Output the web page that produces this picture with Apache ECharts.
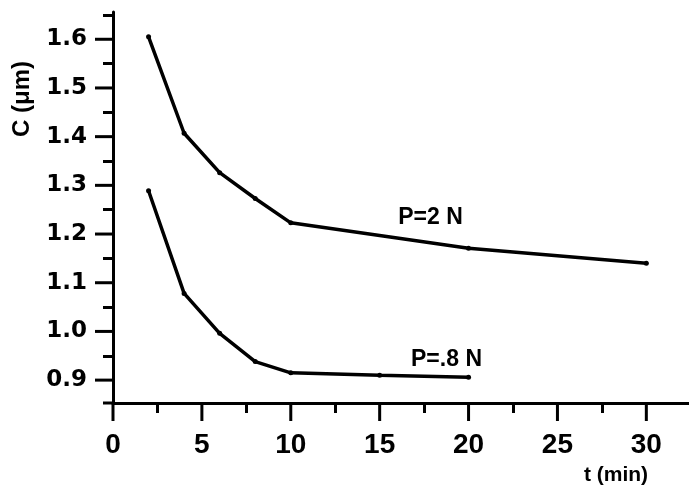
<!DOCTYPE html>
<html lang="en">
  <head>
    <meta charset="UTF-8" />
    <title>C vs t</title>
    <style>
      body, html {
        margin: 0;
        width: 100%;
        height: 100%;
        background: #fff;
      }
    </style>
  </head>
  <body>
    <div id="main" style="width:689px;height:492px;"></div>

    <script src="https://cdn.jsdelivr.net/npm/echarts@6.0.0/dist/echarts.min.js"></script>
    <script>
      const timeP2 = [2, 4, 6, 8, 10, 20, 30];
      const cP2 = [1.605, 1.407, 1.326, 1.273, 1.223, 1.171, 1.14];
      const timeP08 = [2, 4, 6, 8, 10, 15, 20];
      const cP08 = [1.289, 1.078, 0.996, 0.938, 0.915, 0.91, 0.906];

      const xMajor = [0, 5, 10, 15, 20, 25, 30];
      const yMajor = [0.9, 1.0, 1.1, 1.2, 1.3, 1.4, 1.5, 1.6];

      const X_STEP = 5;
      const Y_STEP = 0.1;

      const seriesNames = ['P=2 N', 'P=.8 N'];
      const nameSpots = [[17.86, 1.233], [18.76, 0.941]];

      const X_MIN = 0, X_MAX = 32.4;
      const Y_MIN = 0.853, Y_MAX = 1.656;

      const ink = '#000';
      const MAJOR_LEN = 18;
      const MINOR_LEN = 10;

      function pairs(xs, ys) {
        return xs.map((x, i) => [x, ys[i]]);
      }

      function onStep(step, digits) {
        return v => {
          const k = v / step;
          return Math.abs(k - Math.round(k)) < 1e-6 ? v.toFixed(digits) : '';
        };
      }

      function axis(extra, label) {
        return Object.assign({
          type: 'value',
          splitLine: { show: false },
          axisLine: { onZero: false, lineStyle: { color: ink, width: 3 } },
          axisTick: { show: false },
          minorTick: { show: true, splitNumber: 2, length: MINOR_LEN, lineStyle: { color: ink, width: 3 } },
          minorSplitLine: { show: false },
          axisLabel: Object.assign({ color: ink, fontWeight: 'bold' }, label),
        }, extra);
      }

      const texts = [
        {
          id: 'yname',
          type: 'text',
          x: 22,
          y: 99,
          rotation: Math.PI / 2,
          style: {
            text: 'C (μm)',
            fill: ink,
            font: 'bold 24px "Liberation Sans"',
            textAlign: 'center',
            textVerticalAlign: 'middle',
          },
        },
        {
          id: 'xname',
          type: 'text',
          x: 616,
          y: 475,
          style: {
            text: 't (min)',
            fill: ink,
            font: 'bold 21px "Liberation Sans"',
            textAlign: 'center',
            textVerticalAlign: 'middle',
          },
        },
      ];

      function draw() {
        const myChart = echarts.init(document.getElementById('main'));

        const option = {
          backgroundColor: '#fff',
          animation: false,
          grid: {
            left: 113,
            right: 0,
            top: 12,
            bottom: 89,
            outerBoundsMode: 'none',
          },
          xAxis: axis(
            { min: X_MIN, max: X_MAX, interval: X_STEP },
            { margin: 28, fontSize: 28, fontFamily: 'Liberation Sans', formatter: onStep(X_STEP, 0) }
          ),
          yAxis: axis(
            { min: Y_MIN, max: Y_MAX, splitNumber: 8, minInterval: Y_STEP, maxInterval: Y_STEP },
            { margin: 26, fontSize: 23, fontFamily: 'DejaVu Sans', formatter: onStep(Y_STEP, 1) }
          ),
          graphic: texts,
          series: [
            [timeP2, cP2],
            [timeP08, cP08],
          ].map(([xs, ys], i) => ({
            name: seriesNames[i],
            type: 'line',
            data: pairs(xs, ys),
            symbol: 'circle',
            symbolSize: 5,
            itemStyle: { color: ink },
            lineStyle: { color: ink, width: 3.5 },
            markPoint: {
              symbol: 'circle',
              symbolSize: 0,
              label: {
                show: true,
                position: 'inside',
                formatter: seriesNames[i],
                color: ink,
                fontSize: 23,
                fontWeight: 'bold',
                fontFamily: 'Liberation Sans',
              },
              data: [{ coord: nameSpots[i] }],
            },
          })),
        };

        myChart.setOption(option);

        // long ticks: placed through the axes' own scales after layout
        const toPx = v => myChart.convertToPixel({ xAxisIndex: 0, yAxisIndex: 0 }, v);
        const tick = (id, p, dx, dy) => ({
          id,
          type: 'line',
          z: 10,
          silent: true,
          shape: { x1: p[0], y1: p[1], x2: p[0] + dx, y2: p[1] + dy },
          style: { stroke: ink, lineWidth: 3 },
        });

        const ticks = []
          .concat(xMajor.map((v, i) => tick('xt' + i, toPx([v, Y_MIN]), 0, MAJOR_LEN)))
          .concat(yMajor.map((v, i) => tick('yt' + i, toPx([X_MIN, v]), -MAJOR_LEN, 0)))
          .concat([tick('corner', toPx([X_MIN, Y_MIN]), -MINOR_LEN, 0)]);

        myChart.setOption({ graphic: texts.concat(ticks) });
      }

      draw();
    </script>
  </body>
</html>
